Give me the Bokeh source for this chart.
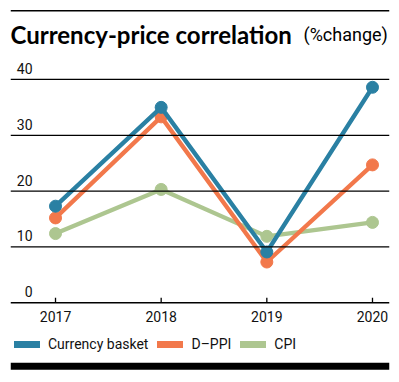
from bokeh.plotting import figure
from bokeh.models import Label, Span, BoxAnnotation, Legend, LegendItem
from bokeh.core.properties import value
from bokeh.embed import file_html
from bokeh.resources import INLINE

years = [2017, 2018, 2019, 2020]
currency_basket = [17.3, 35.0, 9.1, 38.6]
d_ppi = [15.2, 33.3, 7.3, 24.7]
cpi = [12.4, 20.3, 11.9, 14.4]
y_ticks = [0, 10, 20, 30, 40]
year_labels = ["2017", "2018", "2019", "2020"]
series_names = ["Currency basket", "D\u2013PPI", "CPI"]

BLUE = "#2a80a3"
ORANGE = "#f2784b"
GREEN = "#adc690"

XMIN, XMAX = 2016.574, 2020.161
YMIN, YMAX = -12.13, 52.71

p = figure(width=391, height=374, output_backend="svg", toolbar_location=None,
           x_range=(XMIN, XMAX), y_range=(YMIN, YMAX),
           min_border_left=10, min_border_right=2, min_border_top=8, min_border_bottom=4)
p.xaxis.visible = False
p.yaxis.visible = False
p.xgrid.visible = False
p.ygrid.visible = False
p.outline_line_color = None
p.background_fill_color = "white"
p.border_fill_color = "white"

# gridlines
for t in y_ticks:
    p.add_layout(Span(location=t, dimension="width", line_color="black",
                      line_width=1.3 if t else 1.5))

# top rule and bottom bar
p.add_layout(Span(location=52.3, dimension="width", line_color="black", line_width=1.5))
p.add_layout(BoxAnnotation(top=-10.72, bottom=-12.0, fill_color="black", fill_alpha=1,
                           line_color=None))

# x tick marks
p.segment(x0=years, y0=[0] * 4, x1=years, y1=[0.9] * 4, line_color="black", line_width=1.3)

# y tick labels
p.text(x=[XMIN] * len(y_ticks), y=y_ticks, text=[str(t) for t in y_ticks],
       text_align="right", text_baseline="alphabetic", x_offset=22, y_offset=-11,
       text_font=value("Roboto"), text_font_size="14px", text_color="#111111")

# x tick labels
p.text(x=years, y=[0] * 4, text=year_labels, text_align="center", text_baseline="top",
       y_offset=8, text_font=value("Roboto"), text_font_size="14px", text_color="#111111")

# series
for data, color in [(cpi, GREEN), (d_ppi, ORANGE), (currency_basket, BLUE)]:
    p.line(years, data, line_color=color, line_width=4.3, line_join="round")
    p.scatter(years, data, size=12, fill_color=color, line_color=color)

# legend renderers (draw nothing in the plot, only legend glyphs)
nan = float("nan")
items = []
for name, color in zip(series_names, [BLUE, ORANGE, GREEN]):
    r = p.line(years, [nan] * 4, line_color=color, line_width=7, line_cap="round")
    items.append(LegendItem(label=name, renderers=[r]))
legend = Legend(items=items, orientation="horizontal", location=(4, 18),
                glyph_width=26, glyph_height=14, label_height=14, label_standoff=8,
                spacing=9, padding=0, margin=0, border_line_color=None,
                background_fill_alpha=0,
                label_text_font="Roboto", label_text_font_size="14px",
                label_text_color="#111111")
p.add_layout(legend, "center")

# title
p.add_layout(Label(x=XMIN, y=48.0, text="Currency-price correlation",
                   text_font="Lato", text_font_style="bold",
                   text_font_size="24px", text_color="black", text_baseline="alphabetic"))
p.add_layout(Label(x=XMIN, y=48.0, x_offset=293, text="(%change)",
                   text_font="Roboto", text_font_size="18px", text_color="black",
                   text_baseline="alphabetic"))

open("out.html", "w").write(file_html(p, INLINE))
